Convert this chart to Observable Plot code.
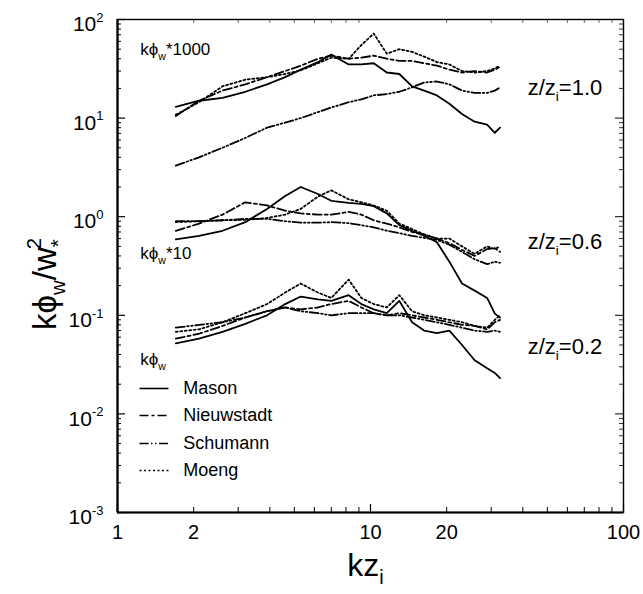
<!DOCTYPE html>
<html><head><meta charset="utf-8">
<script src="https://cdn.jsdelivr.net/npm/d3@7"></script>
<script src="https://cdn.jsdelivr.net/npm/@observablehq/plot@0.6"></script>
<style>body{margin:0;background:#fff}</style>
</head><body><div id="chart"></div>
<script>
// wavenumber grid (kz_i)
const kz = [1.7, 2.1, 2.6, 3.2, 3.9, 4.6, 5.3, 6.2, 7.0, 8.2, 9.2, 10.3, 11.6, 13.0, 14.6, 16.3, 18.3, 20.5, 23.0, 25.8, 28.9, 31.0, 32.5];

// z/zi = 1.0 (plotted as kphi_w*1000)
const masonTop = [13, 15, 16, 18.5, 22, 26, 31, 37, 44, 35, 35, 36, 29, 28, 21, 19, 17, 14, 11, 9.2, 8.6, 7.1, 8.0];
const nieuwTop = [10.5, 15, 19, 22, 26, 30, 34, 40, 43, 40, 41, 43, 40, 38, 38, 36, 34, 31, 29, 30, 29, 31, 33];
const schuTop  = [3.3, 4.0, 5.0, 6.3, 8.0, 9.0, 10.0, 11.5, 12.8, 14.5, 15.5, 17, 17.5, 18.5, 20.5, 23, 23.5, 22, 19, 18, 18, 19, 20.5];
const moengTop = [10.8, 14.5, 21, 24.5, 26, 28, 30.5, 36, 41, 40, 55, 72, 45, 50, 47, 42, 37, 35, 30, 29, 30, 32, 34];

// z/zi = 0.6 (plotted as kphi_w*10)
const masonMid = [0.59, 0.64, 0.72, 0.88, 1.2, 1.62, 2.0, 1.7, 1.45, 1.38, 1.35, 1.28, 1.08, 0.82, 0.72, 0.64, 0.55, 0.35, 0.21, 0.178, 0.15, 0.104, 0.095];
const nieuwMid = [0.72, 0.85, 1.05, 1.4, 1.3, 1.15, 1.08, 1.05, 1.05, 1.12, 1.05, 0.92, 0.85, 0.78, 0.70, 0.66, 0.60, 0.54, 0.46, 0.40, 0.47, 0.48, 0.44];
const schuMid  = [0.9, 0.9, 0.92, 0.95, 0.95, 0.9, 0.87, 0.87, 0.88, 0.86, 0.82, 0.78, 0.72, 0.68, 0.64, 0.61, 0.58, 0.52, 0.44, 0.37, 0.33, 0.35, 0.34];
const moengMid = [0.88, 0.9, 0.92, 0.93, 0.97, 1.05, 1.2, 1.6, 1.85, 1.5, 1.4, 1.3, 1.15, 0.85, 0.75, 0.66, 0.6, 0.6, 0.5, 0.42, 0.5, 0.47, 0.50];

// z/zi = 0.2 (plotted as kphi_w)
const masonBot = [0.052, 0.058, 0.068, 0.082, 0.10, 0.13, 0.155, 0.145, 0.14, 0.16, 0.13, 0.115, 0.105, 0.14, 0.085, 0.07, 0.066, 0.07, 0.05, 0.035, 0.029, 0.026, 0.023];
const nieuwBot = [0.058, 0.065, 0.078, 0.095, 0.11, 0.12, 0.115, 0.12, 0.13, 0.14, 0.12, 0.105, 0.1, 0.105, 0.1, 0.095, 0.09, 0.085, 0.08, 0.078, 0.072, 0.085, 0.09];
const schuBot  = [0.075, 0.08, 0.085, 0.095, 0.11, 0.12, 0.11, 0.105, 0.1, 0.105, 0.105, 0.105, 0.1, 0.1, 0.095, 0.09, 0.085, 0.08, 0.075, 0.07, 0.068, 0.07, 0.068];
const moengBot = [0.068, 0.072, 0.085, 0.105, 0.13, 0.17, 0.21, 0.17, 0.15, 0.23, 0.15, 0.13, 0.12, 0.16, 0.11, 0.10, 0.095, 0.09, 0.085, 0.078, 0.075, 0.09, 0.10];

const seriesNames = ["Mason", "Nieuwstadt", "Schumann", "Moeng"];
const groupNames = ["1.0", "0.6", "0.2"];
const dashes = {Mason: null, Nieuwstadt: "9,3,3,3", Schumann: "9,2.5,1.5,2.5,1.5,2.5", Moeng: "2,2.5"};

// tick labels
const xTickLabels = [1, 2, 10, 20, 100];
const yTickLabels = [1e-3, 1e-2, 1e-1, 1e0, 1e1, 1e2];

// annotations
const factorLabels = ["kϕw*1000", "kϕw*10", "kϕw"];
const factorX = [1.23, 1.23, 1.23];
const factorY = [49.6, 0.424, 0.0356];
const zLabels = ["z/zi=1.0", "z/zi=0.6", "z/zi=0.2"];
const zX = [41.8, 41.8, 41.8];
const zY = [20.4, 0.56, 0.048];
const legendY = [0.0181, 0.00964, 0.00501, 0.00267];
const legendX1 = 1.222, legendX2 = 1.59, legendTextX = 1.82;

const table = {
  "1.0": {Mason: masonTop, Nieuwstadt: nieuwTop, Schumann: schuTop, Moeng: moengTop},
  "0.6": {Mason: masonMid, Nieuwstadt: nieuwMid, Schumann: schuMid, Moeng: moengMid},
  "0.2": {Mason: masonBot, Nieuwstadt: nieuwBot, Schumann: schuBot, Moeng: moengBot}
};
const rows = [];
for (const g of groupNames) for (const s of seriesNames) table[g][s].forEach((v, i) => rows.push({kz: kz[i], v, group: g, series: s}));

const W = 643, H = 594, mL = 117, mR = 20, mT = 19, mB = 82;
const fw = W - mL - mR, fh = H - mT - mB;

// tick positions
const yMinor = [], xMinor = [];
for (let e = -3; e < 2; e++) for (let m = 2; m <= 9; m++) yMinor.push(m * Math.pow(10, e));
for (let e = 0; e < 2; e++) for (let m = 2; m <= 9; m++) xMinor.push(m * Math.pow(10, e));
const xMajor = [1, 10, 100];

const marks = [];
for (const s of seriesNames) {
  marks.push(Plot.line(rows.filter(r => r.series === s), {x: "kz", y: "v", z: "group", stroke: "black", strokeWidth: 1.8, strokeDasharray: dashes[s]}));
}
marks.push(
  Plot.tickY(yTickLabels, {y: d => d, insetRight: fw - 8, strokeWidth: 1.2}),
  Plot.tickY(yMinor, {y: d => d, insetRight: fw - 4, strokeWidth: 1}),
  Plot.tickY(yTickLabels, {y: d => d, insetLeft: fw - 8, strokeWidth: 1}),
  Plot.tickY(yMinor, {y: d => d, insetLeft: fw - 4, strokeWidth: 0.8}),
  Plot.tickX(xMajor, {x: d => d, insetTop: fh - 8, strokeWidth: 1.2}),
  Plot.tickX(xMinor, {x: d => d, insetTop: fh - 5, strokeWidth: 1}),
  Plot.tickX(xMinor, {x: d => d, insetBottom: fh - 4, strokeWidth: 0.6}),
  Plot.frame({stroke: "black", strokeWidth: 1.4}),
  Plot.ruleX([1], {strokeWidth: 2.2}),
  Plot.ruleY([1e-3], {strokeWidth: 2.2}),
  Plot.axisY({ticks: yTickLabels, tickSize: 0, tickPadding: 14, tickFormat: d => "10^" + Math.round(Math.log10(d)), fontSize: 21, dy: 5, label: null}),
  Plot.axisX({ticks: xTickLabels, tickSize: 0, tickPadding: 12, tickFormat: d => String(d), fontSize: 20, label: null}),
  Plot.text(factorLabels, {x: (d, i) => factorX[i], y: (d, i) => factorY[i], text: d => d, textAnchor: "start", fontSize: 17}),
  Plot.text(zLabels, {x: (d, i) => zX[i], y: (d, i) => zY[i], text: d => d, textAnchor: "start", fontSize: 22}),
  Plot.text(seriesNames, {x: legendTextX, y: (d, i) => legendY[i], text: d => d, textAnchor: "start", fontSize: 18}),
  Plot.text(["kzi"], {frameAnchor: "bottom", dy: 63, dx: -5, text: d => d, fontSize: 32}),
  Plot.text(["kϕw/w*2"], {frameAnchor: "left", dx: -72, dy: 64, rotate: -90, textAnchor: "start", text: d => d, fontSize: 33})
);
seriesNames.forEach((s, i) => {
  marks.push(Plot.link([s], {x1: legendX1, x2: legendX2, y1: legendY[i], y2: legendY[i], stroke: "black", strokeWidth: 1.6, strokeDasharray: dashes[s]}));
});

const chart = Plot.plot({
  width: W, height: H,
  marginLeft: mL, marginRight: mR, marginTop: mT, marginBottom: mB,
  style: {fontFamily: "'Liberation Sans', Arial, sans-serif", background: "white", color: "black"},
  x: {type: "log", domain: [1, 100], axis: null},
  y: {type: "log", domain: [1e-3, 1e2], axis: null},
  marks
});
document.getElementById("chart").appendChild(chart);

// rich text (sub/superscripts)
const RICH = {
  "kϕw*1000": [{t: "kϕ"}, {t: "w", sub: 1}, {t: "*1000"}],
  "kϕw*10": [{t: "kϕ"}, {t: "w", sub: 1}, {t: "*10"}],
  "kϕw": [{t: "kϕ"}, {t: "w", sub: 1}],
  "z/zi=1.0": [{t: "z/z"}, {t: "i", sub: 1}, {t: "=1.0"}],
  "z/zi=0.6": [{t: "z/z"}, {t: "i", sub: 1}, {t: "=0.6"}],
  "z/zi=0.2": [{t: "z/z"}, {t: "i", sub: 1}, {t: "=0.2"}],
  "kzi": [{t: "kz"}, {t: "i", sub: 1}],
  "kϕw/w*2": [{t: "kϕ"}, {t: "w", sub: 1}, {t: "/w"}, {t: "*", sub: 1}, {t: "2", sup: 1, dx: -0.3}]
};
d3.select(chart).selectAll("text").each(function () {
  const el = d3.select(this);
  const s = el.text();
  let parts = RICH[s];
  const m = /^10\^(-?\d)$/.exec(s);
  if (m) parts = [{t: "10"}, {t: m[1], sup: 1}];
  if (!parts) return;
  const fs = parseFloat(getComputedStyle(this).fontSize);
  el.text(null);
  let cur = 0;
  for (const p of parts) {
    const off = p.sub ? 0.28 * fs : p.sup ? -0.45 * fs : 0;
    const ts = el.append("tspan").text(p.t).attr("dy", off - cur);
    if (p.dx) ts.attr("dx", p.dx * fs);
    if (p.sub || p.sup) ts.attr("font-size", 0.62 * fs);
    cur = off;
  }
});
</script>
</body></html>
